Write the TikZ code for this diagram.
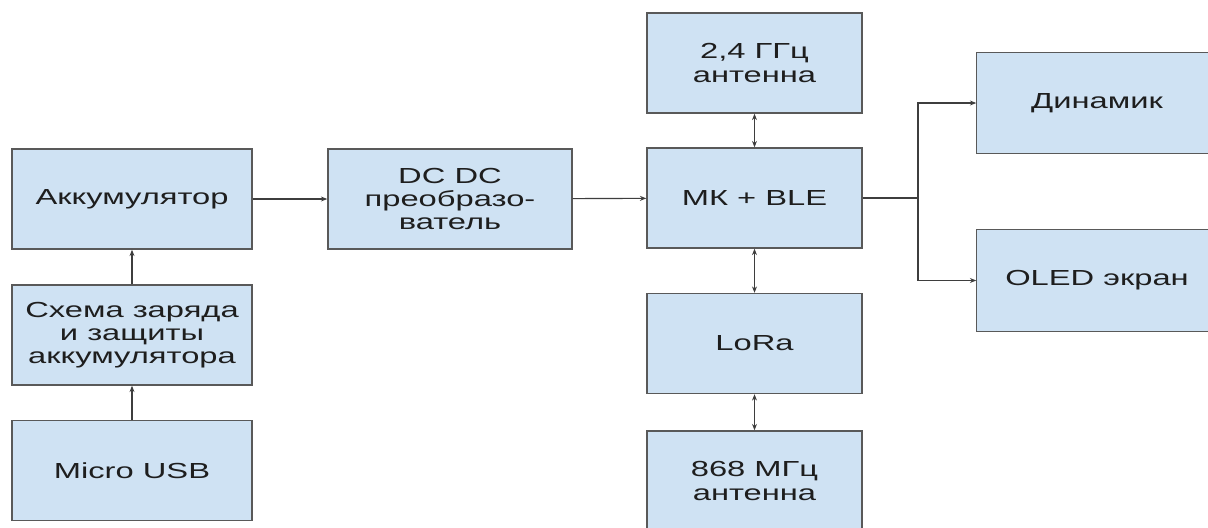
\documentclass[tikz,border=0pt]{standalone}
\usepackage{fontspec}
\setmainfont[FakeStretch=1.5]{Liberation Sans}
\usepackage{tikz}
\usetikzlibrary{arrows.meta}
\definecolor{boxfill}{RGB}{207,226,243}
\definecolor{boxline}{RGB}{89,89,89}
\definecolor{boxtext}{RGB}{30,30,30}

\begin{document}
\begin{tikzpicture}[x=0.025cm, y=-0.025cm,
    blk/.style={draw=boxline, fill=boxfill, line width=1pt, inner sep=0pt,
      minimum width=6cm, minimum height=2.5cm, align=center, text=boxtext,
      font=\fontsize{15.5}{16.5}\selectfont},
    open/.style={blk, draw=none},
    arr/.style={draw=boxline!70!black, line width=0.8pt, -{Stealth[length=4.5pt,width=3.5pt]}},
    darr/.style={draw=boxline!70!black, line width=0.8pt, {Stealth[length=4.5pt,width=3.5pt]}-{Stealth[length=4.5pt,width=3.5pt]}}]
  \useasboundingbox (0,0) rectangle (1208,527);
  \clip (0,0) rectangle (1208,527);
  \fill[white] (0,0) rectangle (1208,527);
  % power chain
  \node[blk] (akk) at (132,199) {Аккумулятор};
  \node[blk] (charge) at (132,335) {Схема заряда\\и защиты\\аккумулятора};
  \node[blk] (usb) at (132,470.5) {Micro USB};
  \node[blk, minimum width=6.1cm] (dcdc) at (450,199) {DC DC\\преобразо-\\ватель};
  % radio column
  \node[blk, minimum width=5.375cm] (ant24) at (754.5,63) {2,4 ГГц\\антенна};
  \node[blk, minimum width=5.375cm] (mcu) at (754.5,198) {МК + BLE};
  \node[blk, minimum width=5.375cm] (lora) at (754.5,343.5) {LoRa};
  \node[blk, minimum width=5.375cm] (ant868) at (754.5,481) {868 МГц\\антенна};
  % outputs, cut at the right edge
  \node[open, minimum width=6cm] (spk) at (1097,103) {Динамик};
  \node[open, minimum width=6cm] (oled) at (1097,280.5) {OLED экран};
  \foreach \t in {spk, oled}{
      \draw[boxline, line width=1pt] (\t.north east) -- (\t.north west)
          -- (\t.south west) -- (\t.south east);
  }
  \coordinate (fork) at (918,198);

  \foreach \a/\b in {usb/charge, charge/akk, akk/dcdc, dcdc/mcu}{
      \draw[arr] (\a) -- (\b);
  }
  \foreach \a/\b in {ant24/mcu, mcu/lora, lora/ant868}{
      \draw[darr] (\a) -- (\b);
  }
  \draw[draw=boxline!70!black, line width=0.8pt] (mcu.east) -- (fork);
  \foreach \t in {spk, oled}{
      \draw[arr] (fork) |- (\t.west);
  }
\end{tikzpicture}
\end{document}
